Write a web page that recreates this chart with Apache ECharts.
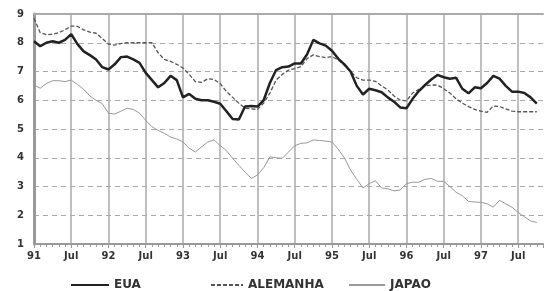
<!DOCTYPE html>
<html>
<head>
<meta charset="utf-8">
<script src="https://cdn.jsdelivr.net/npm/echarts@6/dist/echarts.min.js"></script>
<style>
  html, body { margin: 0; padding: 0; background: #fff; }
  #chart { width: 546px; height: 291px; }
</style>
</head>
<body>
<div id="chart"></div>
<script>
// rótulos do eixo X (jan e jul de cada ano, a cada 6 meses)
var tickLabels = ['91', 'Jul', '92', 'Jul', '93', 'Jul', '94', 'Jul', '95', 'Jul', '96', 'Jul', '97', 'Jul'];

// taxas mensais, jan/91 a out/97
var eua = [
  8.05, 7.88, 8.0, 8.05, 8.0, 8.1, 8.3, 7.95, 7.7, 7.57, 7.42, 7.15,
  7.07, 7.25, 7.5, 7.52, 7.42, 7.3, 6.95, 6.7, 6.45, 6.6, 6.85, 6.7,
  6.1, 6.22, 6.05, 6.0, 6.0, 5.95, 5.88, 5.62, 5.35, 5.33, 5.78, 5.8,
  5.78, 6.0, 6.6, 7.05, 7.15, 7.17, 7.28, 7.28, 7.6, 8.1, 7.98, 7.9,
  7.72, 7.45, 7.25, 7.0, 6.5, 6.2, 6.4, 6.35, 6.28, 6.1, 5.95, 5.75,
  5.72, 6.05, 6.32, 6.53, 6.72, 6.88, 6.8, 6.75, 6.78, 6.4, 6.24, 6.45,
  6.42, 6.6, 6.85, 6.75, 6.5, 6.3, 6.3, 6.25, 6.1, 5.88
];
var alemanha = [
  8.85, 8.35, 8.28, 8.3, 8.35, 8.45, 8.58, 8.57, 8.45, 8.37, 8.33, 8.15,
  7.95, 7.92, 7.97, 8.0, 8.0, 8.0, 8.0, 8.0, 7.65, 7.42, 7.35, 7.25,
  7.12, 6.9, 6.65, 6.62, 6.75, 6.72, 6.58, 6.3, 6.1, 5.9, 5.72, 5.7,
  5.68, 5.9, 6.25, 6.7, 6.9, 7.05, 7.1, 7.17, 7.45, 7.58, 7.52, 7.48,
  7.52, 7.4, 7.22, 7.0, 6.78, 6.7, 6.7, 6.66, 6.5, 6.36, 6.15, 6.0,
  5.98, 6.25, 6.38, 6.5, 6.53, 6.53, 6.4, 6.25, 6.05, 5.9, 5.78, 5.68,
  5.62, 5.58, 5.8, 5.78, 5.7, 5.62, 5.6, 5.6, 5.6, 5.6
];
var japao = [
  6.53, 6.42, 6.58, 6.68, 6.68, 6.65, 6.7, 6.55, 6.38, 6.15, 6.0, 5.88,
  5.55, 5.52, 5.62, 5.72, 5.68, 5.55, 5.3, 5.08, 4.95, 4.85, 4.72, 4.65,
  4.55, 4.33, 4.2, 4.38, 4.55, 4.62, 4.42, 4.25, 3.98, 3.74, 3.5, 3.28,
  3.4, 3.65, 4.03, 4.0, 3.98, 4.2, 4.42, 4.5, 4.52, 4.62, 4.6, 4.58,
  4.55, 4.3, 4.0, 3.57, 3.25, 2.95, 3.1, 3.2, 2.95, 2.92, 2.85, 2.88,
  3.1, 3.15, 3.15, 3.25, 3.28, 3.18, 3.18, 3.0, 2.8, 2.68, 2.48, 2.46,
  2.45, 2.4, 2.28, 2.52, 2.4, 2.28, 2.1, 1.95, 1.8, 1.75
];

function pares(arr) {
  return arr.map(function (v, i) { return [i, v]; });
}

var chart = echarts.init(document.getElementById('chart'));

var fonte = { fontFamily: 'DejaVu Sans', fontWeight: 'bold', color: '#333', fontSize: 12 };

// legenda: uma por série, para acertar os espaçamentos irregulares
function legenda(nome, x, w) {
  return {
    data: [nome], left: x, top: 274, padding: 5,
    itemWidth: w, itemHeight: 10,
    itemStyle: { opacity: 0 },
    textStyle: fonte
  };
}

var option = {
  animation: false,
  backgroundColor: '#fff',
  grid: { left: 34, right: 0, top: 14, bottom: 47 },
  legend: [
    legenda('EUA', 65, 38),
    legenda('ALEMANHA', 205, 32),
    legenda('JAPAO', 343, 36)
  ],
  xAxis: [
    {
      type: 'value',
      min: 0,
      max: 82,
      interval: 6,
      axisLine: { show: true, lineStyle: { color: '#999', width: 2 } },
      axisTick: { show: true, length: 4, lineStyle: { color: '#999' } },
      minorTick: { show: true, splitNumber: 6, length: 3, lineStyle: { color: '#999' } },
      axisLabel: {
        margin: 7,
        fontSize: 10,
        fontFamily: 'DejaVu Sans',
        fontWeight: 'bold',
        color: '#333',
        formatter: function (v) {
          var lbl = tickLabels[v / 6];
          return lbl === undefined ? '' : lbl;
        }
      },
      splitLine: { show: true, showMinLine: false, showMaxLine: false, lineStyle: { color: '#aaa', width: 1.5, type: 'solid' } }
    },
    {
      type: 'value',
      position: 'top',
      min: 0,
      max: 82,
      axisLine: { show: true, lineStyle: { color: '#aaa', width: 2 } },
      axisTick: { show: false },
      axisLabel: { show: false },
      splitLine: { show: false }
    }
  ],
  yAxis: {
    type: 'value',
    min: 1,
    max: 9,
    interval: 1,
    axisLine: { show: true, lineStyle: { color: '#999', width: 3 } },
    axisTick: { show: false },
    axisLabel: { margin: 10, fontSize: 10, fontFamily: 'DejaVu Sans', fontWeight: 'bold', color: '#333' },
    splitLine: { show: true, showMinLine: false, showMaxLine: false, lineStyle: { color: '#aaa', width: 1, type: [5, 4] } }
  },
  series: [
    {
      name: 'JAPAO',
      type: 'line',
      symbol: 'none',
      data: pares(japao),
      lineStyle: { color: '#999', width: 1 },
      itemStyle: { color: '#999' }
    },
    {
      name: 'ALEMANHA',
      type: 'line',
      symbol: 'none',
      data: pares(alemanha),
      lineStyle: { color: '#555', width: 1.3, type: [4, 2] },
      itemStyle: { color: '#555' }
    },
    {
      name: 'EUA',
      type: 'line',
      symbol: 'none',
      data: pares(eua),
      lineStyle: { color: '#222', width: 2.5 },
      itemStyle: { color: '#222' }
    }
  ]
};

chart.setOption(option);
</script>
</body>
</html>
